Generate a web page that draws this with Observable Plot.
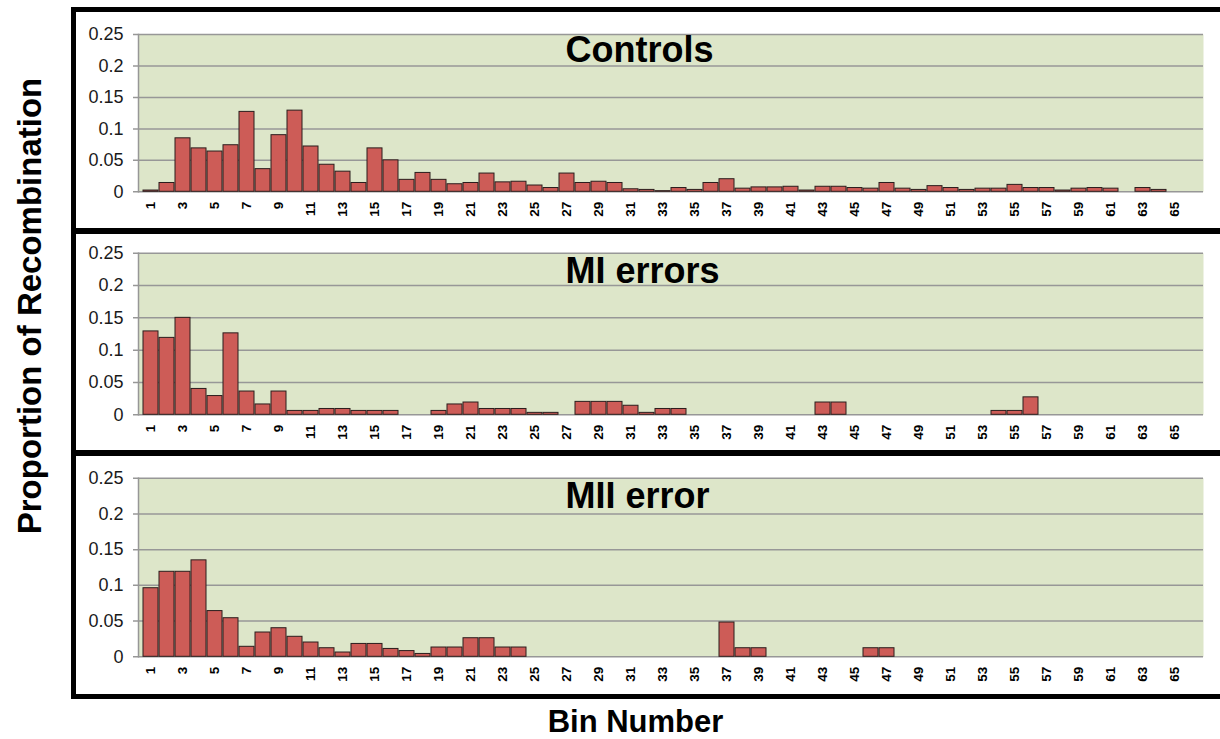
<!DOCTYPE html>
<html><head><meta charset="utf-8">
<script src="https://cdn.jsdelivr.net/npm/d3@7"></script>
<script src="https://cdn.jsdelivr.net/npm/@observablehq/plot@0.6"></script>
<style>
body{margin:0;background:#fff;}
#wrap{position:relative;width:1220px;height:739px;overflow:hidden;font-family:"Liberation Sans",Arial,sans-serif;}
.border{position:absolute;background:#000;}
.panel{position:absolute;left:76px;}
</style></head><body><div id="wrap"></div>
<script>
// ---- data ----
const bins = [1,2,3,4,5,6,7,8,9,10,11,12,13,14,15,16,17,18,19,20,21,22,23,24,25,26,27,28,29,30,31,32,33,34,35,36,37,38,39,40,41,42,43,44,45,46,47,48,49,50,51,52,53,54,55,56,57,58,59,60,61,62,63,64,65,66];
const xTickLabels = [1,3,5,7,9,11,13,15,17,19,21,23,25,27,29,31,33,35,37,39,41,43,45,47,49,51,53,55,57,59,61,63,65];
const yTicks = [0,0.05,0.1,0.15,0.2,0.25];
const yTickLabels = ["0","0.05","0.1","0.15","0.2","0.25"];
const panelTitles = ["Controls","MI errors","MII error"];
const yTitle = "Proportion of Recombination";
const xTitle = "Bin Number";

const controls = [0.002,0.014,0.085,0.069,0.064,0.074,0.127,0.036,0.090,0.129,
  0.072,0.043,0.032,0.014,0.069,0.050,0.019,0.030,0.019,0.012,
  0.014,0.029,0.015,0.016,0.010,0.006,0.029,0.014,0.016,0.014,
  0.004,0.003,0.001,0.006,0.003,0.014,0.020,0.005,0.007,0.007,
  0.008,0.002,0.008,0.008,0.006,0.005,0.014,0.005,0.003,0.009,
  0.006,0.003,0.005,0.005,0.011,0.006,0.006,0.002,0.005,0.006,
  0.005,0,0.006,0.003,0];
const miErrors = [0.129,0.119,0.150,0.040,0.029,0.126,0.036,0.016,0.036,0.006,
  0.006,0.009,0.009,0.006,0.006,0.006,0,0,0.006,0.016,
  0.019,0.009,0.009,0.009,0.003,0.003,0,0.020,0.020,0.020,
  0.014,0.003,0.009,0.009,0,0,0,0,0,0,
  0,0,0.019,0.019,0,0,0,0,0,0,
  0,0,0,0.006,0.006,0.027,0,0,0,0,
  0,0,0,0,0];
const miiError = [0.096,0.119,0.119,0.135,0.064,0.054,0.014,0.034,0.040,0.028,
  0.020,0.012,0.006,0.018,0.018,0.011,0.008,0.004,0.013,0.013,
  0.026,0.026,0.013,0.013,0,0,0,0,0,0,
  0,0,0,0,0,0,0.048,0.012,0.012,0,
  0,0,0,0,0,0.012,0.012,0,0,0,
  0,0,0,0,0,0,0,0,0,0,
  0,0,0,0,0];
const series = [controls, miErrors, miiError];

// ---- layout ----
const layout = [
  {top:12,  height:216, marginTop:22,   plotH:157.3, titleDy:15.7},
  {top:234, height:216, marginTop:18.7, plotH:161.6, titleDy:18.7},
  {top:457, height:237, marginTop:20.7, plotH:178.6, titleDy:18.7}
];
const font = '"Liberation Sans", Arial, sans-serif';
const wrap = document.getElementById("wrap");

series.forEach((vals, i) => {
  const L = layout[i];
  const data = vals.map((v, j) => ({bin: bins[j], value: v})).filter(d => d.value > 0);
  const chart = Plot.plot({
    width: 1144,
    height: L.height,
    marginLeft: 62,
    marginRight: 17,
    marginTop: L.marginTop,
    marginBottom: L.height - L.marginTop - L.plotH,
    style: {fontFamily: font, background: "transparent", overflow: "visible"},
    x: {type: "band", domain: bins, padding: 0.09, label: null},
    y: {domain: [0, 0.25], label: null},
    marks: [
      Plot.frame({fill: "#dde6c9", stroke: null}),
      Plot.ruleY(yTicks, {stroke: "#979797", strokeWidth: 1.5, insetLeft: -5}),
      Plot.frame({anchor: "left", stroke: "#979797", strokeWidth: 1.5}),
      Plot.barY(data, {x: "bin", y: "value", fill: "#cd5c57", stroke: "#2b1d1d", strokeWidth: 1}),
      Plot.axisY({ticks: yTicks, tickFormat: d => yTickLabels[yTicks.indexOf(d)], tickSize: 0, tickPadding: 15, fontSize: 18, color: "#1a1a1a", label: null}),
      Plot.axisX({ticks: xTickLabels, tickSize: 0, tickPadding: 10, tickRotate: -90, fontSize: 13.5, fontWeight: "bold", color: "#000", label: null}),
      Plot.text([panelTitles[i]], {text: d => d, frameAnchor: "top-left", dx: 427, dy: L.titleDy, textAnchor: "start", lineAnchor: "middle", fontSize: 36, fontWeight: "bold", fill: "#000"})
    ]
  });
  chart.classList.add("panel");
  chart.style.top = L.top + "px";
  wrap.appendChild(chart);
});

// ---- frame borders ----
const borders = [
  {left:71, top:7, width:5, height:692},
  {left:71, top:7, width:1149, height:5},
  {left:71, top:228, width:1149, height:6},
  {left:71, top:450, width:1149, height:6},
  {left:71, top:694, width:1149, height:5}
];
borders.forEach(b => {
  const d = document.createElement("div");
  d.className = "border";
  Object.assign(d.style, {left: b.left + "px", top: b.top + "px", width: b.width + "px", height: b.height + "px"});
  wrap.appendChild(d);
});

// ---- axis titles ----
const svg = d3.select(wrap).append("svg")
  .attr("width", 1220).attr("height", 739)
  .style("position", "absolute").style("left", 0).style("top", 0)
  .style("pointer-events", "none")
  .style("font-family", font);
svg.append("text")
  .attr("transform", "translate(41,306) rotate(-90)")
  .attr("text-anchor", "middle")
  .attr("font-size", 33).attr("font-weight", "bold").attr("fill", "#000")
  .text(yTitle);
svg.append("text")
  .attr("x", 635.5).attr("y", 732)
  .attr("text-anchor", "middle")
  .attr("font-size", 31).attr("font-weight", "bold").attr("fill", "#000")
  .text(xTitle);
</script></body></html>
